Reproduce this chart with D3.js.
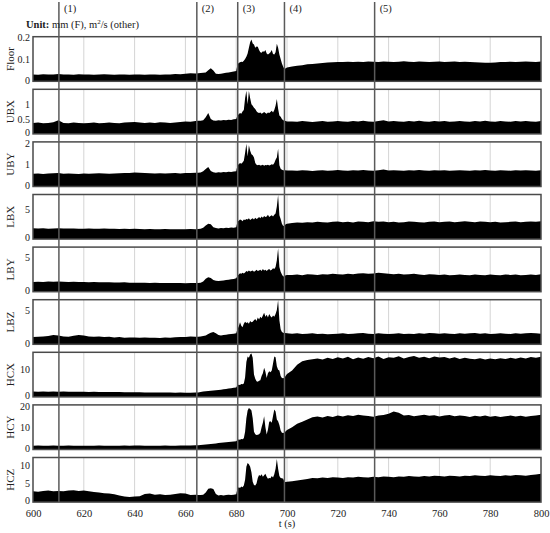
<!DOCTYPE html>
<meta charset="utf-8">
<html>
<head>
<title>Response time histories</title>
<script src="https://d3js.org/d3.v7.min.js"></script>
<style>
    body {
        margin: 0;
        background: #fff;
    }
    svg text {
        fill: #222;
        font-family: "Liberation Serif", "Times New Roman", serif;
    }
</style>
</head>
<body>
<svg id="chart"></svg>
<script>

// time stamps (s): 2 s steps, 1 s around (2), 0.5 s through the burst, 2 s after
var t = [600,602,604,606,608,610,612,614,616,618,620,622,624,626,628,630,632,634,636,638,640,642,644,646,648,650,652,654,656,658,660,662,664,
    665,666,667,668,669,670,671,672,673,674,675,676,677,678,679,680,
    680.5,681,681.5,682,682.5,683,683.5,684,684.5,685,685.5,686,686.5,687,687.5,688,688.5,689,689.5,690,
    690.5,691,691.5,692,692.5,693,693.5,694,694.5,695,695.5,696,696.5,697,697.5,698,698.5,699,699.5,700,
    702,704,706,708,710,712,714,716,718,720,722,724,726,728,730,732,734,736,738,740,742,744,746,748,750,
    752,754,756,758,760,762,764,766,768,770,772,774,776,778,780,782,784,786,788,790,792,794,796,798,800]

var floor = [.031,.029,.032,.030,.031,.033,.030,.031,.029,.032,.030,.031,.029,.030,.032,.030,.029,.031,.030,.029,.030,.031,.029,.030,.031,.029,.030,.031,.033,.032,.034,.036,.035,
    .036,.037,.038,.040,.050,.058,.048,.034,.033,.034,.036,.038,.040,.042,.044,.046,
    .075,.082,.085,.088,.086,.092,.100,.110,.125,.150,.175,.188,.170,.165,.150,.156,.155,.140,.130,.128,
    .135,.132,.140,.125,.120,.125,.130,.140,.122,.120,.130,.168,.150,.120,.100,.080,.065,.055,.058,.062,
    .066,.070,.072,.076,.078,.080,.082,.084,.085,.086,.087,.088,.086,.088,.087,.089,.088,.087,.089,.088,.087,.088,.090,.088,.087,
    .089,.088,.087,.088,.089,.087,.088,.089,.087,.088,.086,.085,.084,.083,.083,.084,.086,.087,.088,.087,.088,.089,.088,.087,.089]

var ubx = [.37,.38,.36,.37,.39,.46,.37,.36,.38,.37,.36,.37,.38,.36,.37,.38,.37,.36,.38,.39,.40,.38,.37,.38,.37,.39,.38,.37,.38,.40,.42,.41,.43,
    .44,.44,.46,.56,.70,.50,.45,.44,.46,.45,.47,.46,.48,.47,.49,.50,
    .62,.66,.70,.68,.75,.80,1.2,1.45,1.0,1.44,1.2,1.0,.95,.88,.84,.76,.72,.70,.72,.68,
    .70,.74,.70,.68,.72,.70,.74,.78,.72,.80,.95,1.17,.85,.62,.58,.50,.46,.44,.43,.42,
    .42,.41,.43,.42,.40,.42,.43,.41,.42,.43,.42,.41,.43,.42,.44,.42,.41,.43,.46,.42,.43,.42,.41,.43,.42,
    .44,.42,.41,.43,.42,.43,.41,.42,.43,.42,.41,.43,.42,.44,.42,.41,.43,.42,.41,.43,.42,.43,.42,.41,.43]

var uby = [.57,.58,.56,.58,.59,.60,.57,.58,.57,.56,.58,.57,.58,.59,.58,.57,.58,.59,.60,.61,.63,.62,.60,.59,.58,.59,.58,.59,.60,.58,.60,.61,.62,
    .62,.63,.68,.78,.88,.70,.64,.62,.64,.63,.65,.64,.66,.65,.67,.68,
    .95,1.0,1.05,1.02,1.08,1.15,1.5,1.92,1.35,1.85,1.6,1.45,1.4,1.3,1.05,.98,.95,.97,.94,.95,
    .97,.93,.96,.95,.98,.94,.96,1.0,.97,1.05,1.2,1.3,1.69,.95,.80,.75,.73,.72,.73,.72,
    .72,.71,.73,.72,.70,.72,.73,.71,.72,.74,.72,.71,.73,.72,.74,.72,.71,.73,.76,.72,.73,.72,.71,.73,.72,
    .74,.72,.71,.73,.72,.73,.71,.72,.73,.72,.71,.73,.72,.74,.72,.71,.73,.72,.71,.73,.72,.73,.72,.71,.73]

var lbx = [1.82,1.78,1.84,1.76,1.80,1.83,1.79,1.77,1.80,1.76,1.74,1.77,1.73,1.75,1.78,1.72,1.74,1.71,1.73,1.69,1.72,1.68,1.66,1.70,1.67,1.65,1.68,1.66,1.64,1.67,1.66,1.68,1.67,
    1.70,1.75,1.90,2.30,2.60,2.50,2.00,1.85,1.80,1.85,1.82,1.90,1.88,1.95,1.92,2.00,
    2.9,3.1,3.3,3.2,3.0,3.3,3.2,3.4,3.3,3.5,3.2,3.4,3.5,3.3,3.6,3.4,3.5,3.7,3.5,3.8,
    3.6,3.9,3.7,3.8,4.1,3.7,3.9,4.0,3.8,4.1,4.3,5.5,7.4,4.0,3.4,2.6,2.2,2.3,2.5,2.6,
    2.7,2.8,2.75,2.85,2.8,2.9,2.85,2.8,2.9,2.95,2.85,2.9,2.8,2.95,2.9,2.85,3.0,2.9,2.95,2.85,2.9,2.8,2.85,2.95,2.9,
    2.85,2.8,2.9,2.95,2.85,2.9,2.95,2.85,2.9,3.0,2.9,2.85,2.95,2.9,2.85,2.9,2.8,2.85,2.9,2.95,2.85,2.9,2.95,2.9,3.0]

var lby = [1.42,1.45,1.40,1.47,1.44,1.50,1.46,1.43,1.45,1.41,1.40,1.38,1.41,1.37,1.36,1.38,1.35,1.33,1.36,1.32,1.30,1.32,1.29,1.28,1.30,1.27,1.26,1.28,1.25,1.27,1.24,1.26,1.25,
    1.25,1.30,1.50,1.90,2.10,2.00,1.70,1.60,1.55,1.60,1.65,1.70,1.75,1.80,1.85,1.95,
    2.3,2.5,2.7,2.6,2.75,2.65,2.8,3.0,2.9,3.1,2.95,3.0,3.1,2.9,3.0,3.2,3.0,3.1,3.2,3.0,
    3.3,3.1,3.2,3.0,3.2,3.3,3.1,3.2,3.4,3.3,3.6,4.6,6.35,3.6,2.9,2.5,2.2,2.3,2.4,2.45,
    2.45,2.5,2.4,2.55,2.5,2.45,2.55,2.5,2.6,2.55,2.5,2.6,2.55,2.65,2.7,2.6,2.65,2.75,2.7,2.6,2.55,2.6,2.5,2.55,2.6,
    2.5,2.45,2.55,2.5,2.45,2.5,2.4,2.45,2.5,2.45,2.4,2.5,2.45,2.4,2.5,2.45,2.4,2.5,2.45,2.5,2.4,2.45,2.5,2.45,2.55]

var lbz = [1.05,1.10,1.15,1.20,1.35,1.30,1.15,1.10,1.25,1.35,1.30,1.15,1.10,1.15,1.05,1.10,1.00,1.05,0.95,1.00,1.00,0.95,1.00,0.95,0.97,0.93,1.00,0.95,1.02,1.05,1.08,1.12,1.10,
    1.10,1.15,1.20,1.30,1.50,1.70,1.80,1.60,1.35,1.30,1.35,1.40,1.45,1.50,1.55,1.60,
    2.2,2.6,3.2,2.7,2.5,3.0,3.3,3.1,3.2,3.0,3.4,3.2,3.3,3.5,3.7,3.4,3.9,3.6,4.0,3.8,
    4.2,4.6,4.0,4.3,3.9,4.4,4.1,3.9,4.2,4.0,4.4,5.0,6.45,3.5,2.2,1.8,1.7,1.6,1.65,1.6,
    1.55,1.6,1.5,1.55,1.6,1.5,1.55,1.45,1.5,1.55,1.6,1.5,1.55,1.6,1.65,1.55,1.5,1.6,1.55,1.5,1.55,1.6,1.5,1.55,1.5,
    1.6,1.55,1.65,1.6,1.55,1.6,1.55,1.5,1.6,1.55,1.6,1.65,1.55,1.6,1.5,1.55,1.6,1.55,1.5,1.6,1.55,1.6,1.65,1.6,1.55]

var hcx = [1.90,1.85,1.95,1.88,1.92,1.86,1.90,1.84,1.88,1.82,1.85,1.80,1.83,1.78,1.80,1.76,1.74,1.72,1.70,1.68,1.66,1.64,1.62,1.60,1.62,1.58,1.56,1.55,1.52,1.54,1.50,1.52,1.55,
    1.6,1.8,1.9,2.0,2.1,2.2,2.3,2.35,2.5,2.6,2.7,2.85,3.0,3.1,3.3,3.4,
    4.2,4.4,4.3,4.6,4.5,4.8,7.0,12.5,14.5,14.0,15.2,15.6,14.0,8.0,6.5,5.6,5.4,5.8,6.0,7.5,
    8.5,10.5,9.0,6.8,8.5,9.2,8.8,9.5,12.0,14.5,14.2,11.0,9.7,9.5,7.5,6.8,6.7,6.9,7.6,8.2,
    9.5,11.5,12.8,13.2,13.5,13.8,13.4,14.0,13.6,14.2,13.8,14.4,13.5,14.1,13.7,14.3,13.9,14.5,13.6,14.2,14.0,14.6,13.8,14.3,14.7,
    14.0,14.4,13.9,14.5,14.1,14.3,13.8,14.2,13.6,14.0,13.7,13.5,13.9,13.4,13.8,13.5,13.9,13.6,14.0,13.7,14.1,13.8,14.3,14.0,14.4]

var hcy = [1.7,1.75,1.65,1.7,1.8,1.72,1.68,1.75,1.7,1.66,1.72,1.68,1.7,1.74,1.66,1.7,1.72,1.68,1.75,1.7,1.8,1.74,1.7,1.72,1.68,1.7,1.75,1.72,1.7,1.76,1.8,1.85,1.9,
    1.9,2.0,2.1,2.2,2.35,2.5,2.6,2.7,2.9,3.0,3.1,3.3,3.4,3.5,3.6,3.7,
    4.3,4.5,4.4,4.7,4.6,5.0,8.0,14.0,17.5,18.6,18.2,17.5,14.0,8.0,6.8,6.5,6.6,6.8,7.5,10.0,
    12.0,14.9,10.0,6.7,9.0,12.5,12.7,12.0,15.0,17.9,17.0,13.5,12.7,11.0,8.5,7.5,7.4,7.6,8.2,8.8,
    10.0,11.5,12.5,13.5,14.5,14.8,14.3,15.0,14.6,15.2,14.8,15.4,15.0,15.6,15.2,15.0,14.7,15.3,15.5,16.0,17.0,16.5,15.2,15.5,14.9,
    15.3,15.6,15.1,15.4,14.8,15.2,15.5,14.9,15.3,15.0,14.6,15.1,14.8,15.2,14.7,15.0,14.6,14.9,15.2,14.8,15.1,14.7,15.0,15.3,15.6]

var hcz = [2.9,2.8,3.0,3.1,2.9,3.0,2.9,3.1,3.2,3.0,3.1,2.9,2.7,2.6,2.4,2.3,2.1,1.8,1.5,1.4,1.5,1.6,2.2,2.3,2.0,2.1,1.9,2.0,2.2,2.4,2.3,1.9,2.0,
    1.9,1.9,2.0,2.6,3.6,3.7,3.5,2.2,1.8,1.9,1.8,1.9,2.0,1.9,2.0,2.1,
    3.6,4.0,3.8,4.2,4.0,4.5,6.0,9.5,10.5,10.2,9.5,8.0,5.5,4.6,4.5,5.0,6.5,7.3,7.0,7.5,
    6.8,7.2,7.6,6.8,6.3,6.5,6.4,7.0,6.6,7.5,9.0,11.6,9.0,7.0,6.5,6.4,6.3,5.5,5.4,5.5,
    5.6,5.8,6.0,6.2,6.5,6.4,6.6,6.5,6.7,6.6,6.5,6.7,6.6,6.8,6.7,6.6,6.8,6.7,6.9,6.8,6.7,6.9,6.8,7.0,6.9,
    6.8,7.0,6.9,7.1,7.0,6.9,7.1,7.0,6.9,7.1,7.0,7.2,7.1,7.0,7.2,7.1,7.0,7.2,7.1,7.3,7.2,7.1,7.3,7.4,7.6]

var names = ["Floor", "UBX", "UBY", "LBX", "LBY", "LBZ", "HCX", "HCY", "HCZ"]
var series = [floor, ubx, uby, lbx, lby, lbz, hcx, hcy, hcz]
var yMax = [0.2, 1.5, 2, 7.5, 6.5, 6.5, 16, 20, 12]
var yTicks = [[0, 0.1, 0.2], [0, 0.5, 1], [0, 1, 2], [0, 5], [0, 5], [0, 5], [0, 10], [0, 10, 20], [0, 5, 10]]
var xTicks = [600, 620, 640, 660, 680, 700, 720, 740, 760, 780, 800]
var events = [610.2, 664.5, 680.6, 699, 734.5]
var eventLabels = ["(1)", "(2)", "(3)", "(4)", "(5)"]

var width = 550
var height = 533
var left = 33, right = 541
var top0 = 36.7, step = 52.6, ph = 44.6
var serif = "'Liberation Serif', 'Times New Roman', serif"

var svg = d3.select("#chart")
    .attr("width", width)
    .attr("height", height)

var x = d3.scaleLinear().domain([600, 800]).range([left, right])
var bottom = top0 + 8 * step + ph

svg.append("defs").append("clipPath")
    .attr("id", "plotclip")
    .append("rect")
    .attr("x", left).attr("y", 0)
    .attr("width", right - left).attr("height", ph)

names.forEach(function(name, i) {
    var py = top0 + i * step
    var y = d3.scaleLinear().domain([0, yMax[i]]).range([ph, 0])
    var g = svg.append("g").attr("transform", "translate(0," + py + ")")

    // light grid
    g.selectAll("line.grid")
        .data(xTicks.slice(1, -1))
        .enter().append("line")
        .attr("x1", d => x(d)).attr("x2", d => x(d))
        .attr("y1", 0).attr("y2", ph)
        .attr("stroke", "#d4d4d4")
        .attr("stroke-width", 1)

    var area = d3.area()
        .x((d, k) => x(t[k]))
        .y0(ph)
        .y1(d => y(d))

    g.append("path")
        .datum(series[i])
        .attr("clip-path", "url(#plotclip)")
        .attr("d", area)
        .attr("fill", "#000")

    g.append("rect")
        .attr("x", left).attr("y", 0)
        .attr("width", right - left).attr("height", ph)
        .attr("fill", "none")
        .attr("stroke", "#4a4a4a")
        .attr("stroke-width", 1.5)

    var ax = g.append("g")
        .attr("transform", "translate(" + left + ",0)")
        .call(d3.axisLeft(y).tickValues(yTicks[i]).tickFormat(d3.format("~g")).tickSize(0).tickPadding(3))
        .attr("font-family", serif)
        .attr("font-size", 10)
    ax.select(".domain").remove()
    // nudge the end labels inward a little, as in the original
    ax.selectAll("text")
        .attr("fill", "#222")
        .attr("y", d => d === 0 ? -1.5 : (d === yMax[i] ? 1 : 0))

    g.append("text")
        .attr("transform", "translate(10," + (ph / 2) + ") rotate(-90)")
        .attr("dy", "0.35em")
        .attr("text-anchor", "middle")
        .style("font-size", "11px")
        .text(name)
})

// time axis
var xa = svg.append("g")
    .attr("transform", "translate(0," + bottom + ")")
    .call(d3.axisBottom(x).tickValues(xTicks).tickSize(0).tickPadding(7))
    .attr("font-family", serif)
    .attr("font-size", 10.5)
xa.select(".domain").remove()
xa.selectAll("text").attr("fill", "#222")

svg.append("text")
    .attr("x", (left + right) / 2)
    .attr("y", 527)
    .attr("text-anchor", "middle")
    .style("font-size", "10.5px")
    .text("t (s)")

// event markers
svg.selectAll("line.event")
    .data(events)
    .enter().append("line")
    .attr("x1", d => x(d)).attr("x2", d => x(d))
    .attr("y1", 2).attr("y2", bottom)
    .attr("stroke", "#5a5a5a")
    .attr("stroke-width", 1.5)

svg.selectAll("text.event")
    .data(events)
    .enter().append("text")
    .attr("x", d => x(d) + 5)
    .attr("y", 12)
    .style("font-size", "10.5px")
    .text((d, i) => eventLabels[i])

var unit = svg.append("text")
    .attr("x", 26)
    .attr("y", 28)
    .style("font-size", "10.5px")
unit.append("tspan").style("font-weight", "bold").text("Unit:")
unit.append("tspan").text(" mm (F), m")
unit.append("tspan").attr("dy", -4).style("font-size", "7px").text("2")
unit.append("tspan").attr("dy", 4).text("/s (other)")

</script>
</body>
</html>
